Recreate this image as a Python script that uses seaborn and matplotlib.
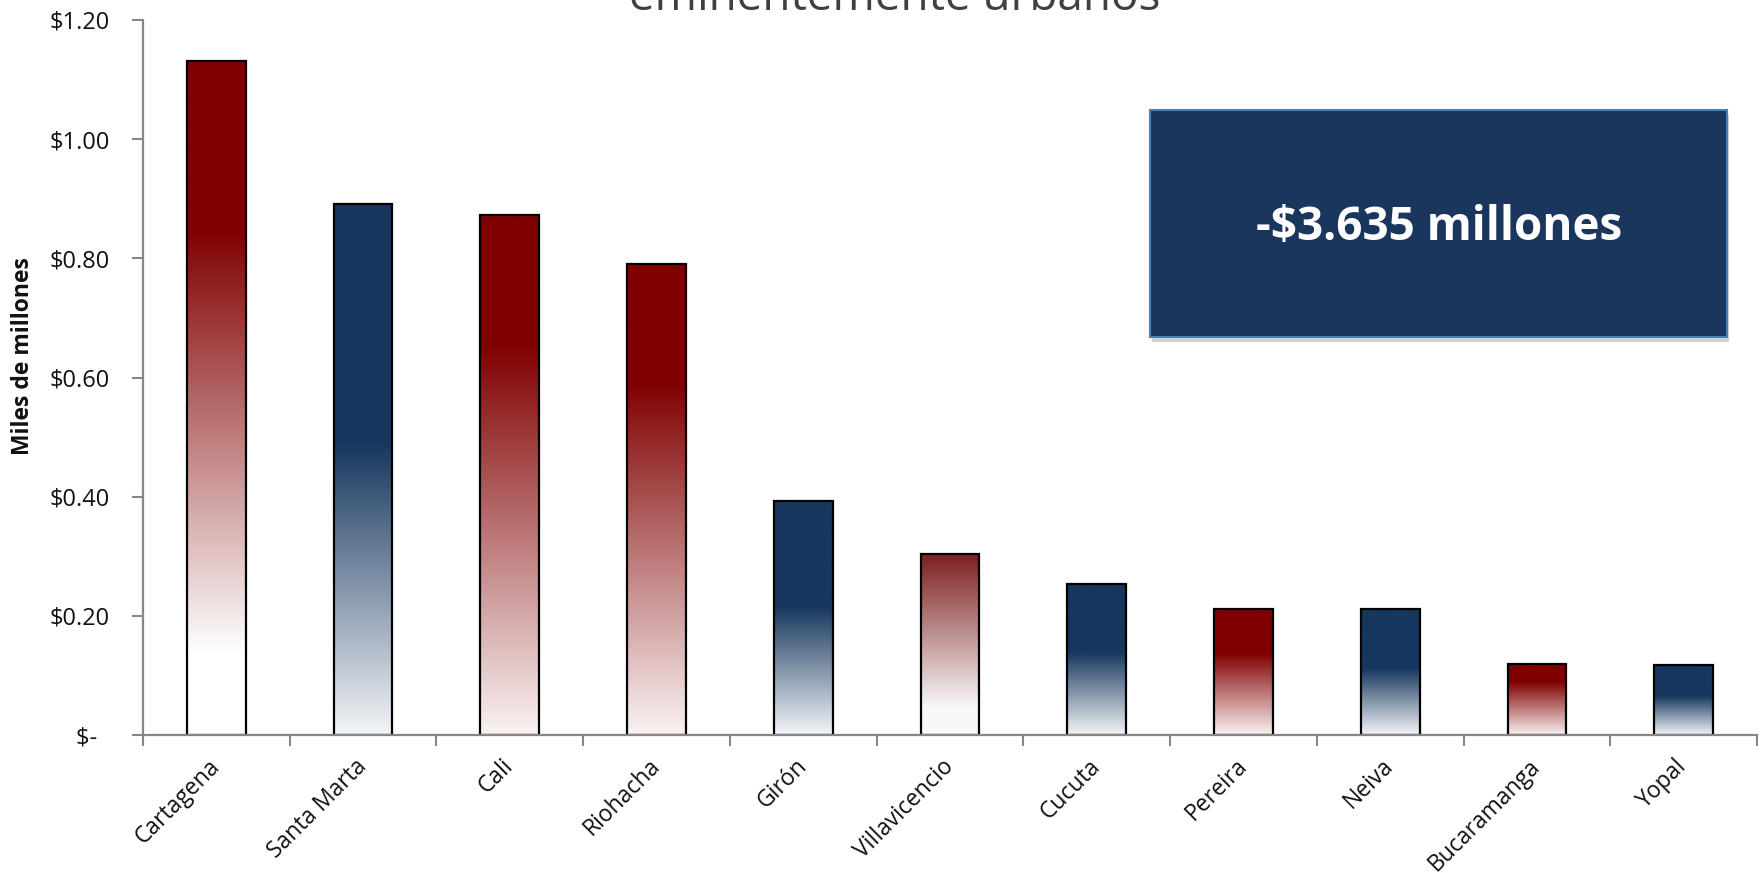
import numpy as np
import pandas as pd
import matplotlib
matplotlib.use("Agg")
import matplotlib.pyplot as plt
import seaborn as sns
from matplotlib.colors import to_rgb
from matplotlib.patches import Rectangle

# ---------------- data ----------------
cities = ["Cartagena", "Santa Marta", "Cali", "Riohacha", "Girón", "Villavicencio",
          "Cucuta", "Pereira", "Neiva", "Bucaramanga", "Yopal"]
values = [1.132, 0.891, 0.873, 0.790, 0.392, 0.304, 0.253, 0.211, 0.211, 0.119, 0.118]
groups = ["rojo", "azul", "rojo", "rojo", "azul", "gris", "azul", "rojo", "azul", "rojo", "azul"]
y_ticks = [0, 0.2, 0.4, 0.6, 0.8, 1.0, 1.2]
y_tick_labels = ["$-  ", "$0.20", "$0.40", "$0.60", "$0.80", "$1.00", "$1.20"]
ylabel = "Miles de millones"
title_tail = "eminentemente urbanos"
box_text = "-$3.635 millones"

# ---------------- styles ----------------
base_colors = {"rojo": "#800000", "azul": "#17375E", "gris": "#7C1E1E"}
end_colors = {"rojo": "#FAF3F3", "azul": "#F3F5F8", "gris": "#F8F8F8"}
solid_until = [0.25, 0.45, 0.25, 0.25, 0.45, 0.0, 0.45, 0.35, 0.47, 0.25, 0.45]
fade_until = [0.88, 1.0, 1.0, 1.0, 1.0, 0.85, 1.0, 1.0, 1.0, 1.0, 1.0]
FONT = ["Open Sans", "DejaVu Sans"]
GRAY = "#868686"

sns.set_theme(style="white")
plt.rcParams["font.family"] = FONT

W, H, DPI = 1762, 873, 100
fig = plt.figure(figsize=(W / DPI, H / DPI), dpi=DPI)
fig.patch.set_facecolor("white")
ax = fig.add_axes([143 / W, 1 - 735 / H, (1757 - 143) / W, (735 - 20) / H])

df = pd.DataFrame({"ciudad": cities, "valor": values, "grupo": groups})
pal = {c: base_colors[g] for c, g in zip(cities, groups)}
sns.barplot(data=df, x="ciudad", y="valor", hue="ciudad", palette=pal, legend=False,
            width=0.4, saturation=1, edgecolor="black", linewidth=1.6, ax=ax, zorder=2)

# gradient fills clipped to each bar
patches = sorted([p for p in ax.patches], key=lambda p: p.get_x())
N = 400
t = np.linspace(0, 1, N)
for i, (p, g, s, e) in enumerate(zip(patches, groups, solid_until, fade_until)):
    c0 = np.array(to_rgb(base_colors[g]))
    c1 = np.array(to_rgb(end_colors[g] if e >= 1.0 or g != "rojo" else "#FFFFFF"))
    f = np.clip((t - s) / max(e - s, 1e-6), 0, 1)
    col = c0[None, :] * (1 - f[:, None]) + c1[None, :] * f[:, None]
    img = np.repeat(col[:, None, :], 2, axis=1)
    x0, w, h = p.get_x(), p.get_width(), p.get_height()
    ax.imshow(img, extent=[x0, x0 + w, 0, h], origin="upper", aspect="auto",
              interpolation="bilinear", zorder=1)
    p.set_facecolor("none")
    p.set_zorder(2)

ax.set_xlim(-0.5, len(cities) - 0.5)
ax.set_ylim(0, 1.2)
ax.set_xlabel("")
ax.set_ylabel("")

# y axis
ax.set_yticks(y_ticks)
ax.set_yticklabels(y_tick_labels, fontsize=17, color="#111111")
ax.tick_params(axis="y", which="major", left=True, direction="out", length=8,
               width=1.5, color=GRAY, pad=16)

# x axis: ticks between categories, labels at centers
ax.set_xticks(np.arange(-0.5, len(cities), 1.0))
ax.set_xticklabels([""] * (len(cities) + 1))
ax.set_xticks(np.arange(len(cities)), minor=True)
ax.set_xticklabels(cities, minor=True, rotation=45, ha="right", va="center",
                   rotation_mode="anchor", fontsize=16.5, color="#111111")
ax.tick_params(axis="x", which="major", bottom=True, direction="out", length=8,
               width=1.5, color=GRAY)
ax.tick_params(axis="x", which="minor", bottom=True, length=0, pad=20)

for side in ["top", "right"]:
    ax.spines[side].set_visible(False)
for side in ["left", "bottom"]:
    ax.spines[side].set_color(GRAY)
    ax.spines[side].set_linewidth(1.6)
ax.grid(False)

# y label
fig.text(23 / W, 1 - 356 / H, ylabel, rotation=90, ha="center", va="center",
         fontsize=16.5, fontweight="bold", color="#111111")

# clipped title tail
fig.text(895 / W, 1 - 10 / H, title_tail, ha="center", va="baseline",
         fontsize=33, color="#404040")

# annotation box with shadow
bx0, by0, bx1, by1 = 1150, 110, 1727, 337
shadow = Rectangle(((bx0 + 2) / W, 1 - (by1 + 5) / H), (bx1 - bx0) / W, (by1 - by0) / H,
                   transform=fig.transFigure, facecolor="#000000", alpha=0.18,
                   edgecolor="none", zorder=4)
fig.add_artist(shadow)
box = Rectangle((bx0 / W, 1 - by1 / H), (bx1 - bx0) / W, (by1 - by0) / H,
                transform=fig.transFigure, facecolor="#1A365D", edgecolor="#4A7EBB",
                linewidth=1.5, zorder=5)
fig.add_artist(box)
fig.text(1439 / W, 1 - 228 / H, box_text, ha="center", va="center",
         fontsize=33, fontweight="bold", color="white", zorder=6)

fig.savefig("out.png", dpi=DPI, facecolor="white")
